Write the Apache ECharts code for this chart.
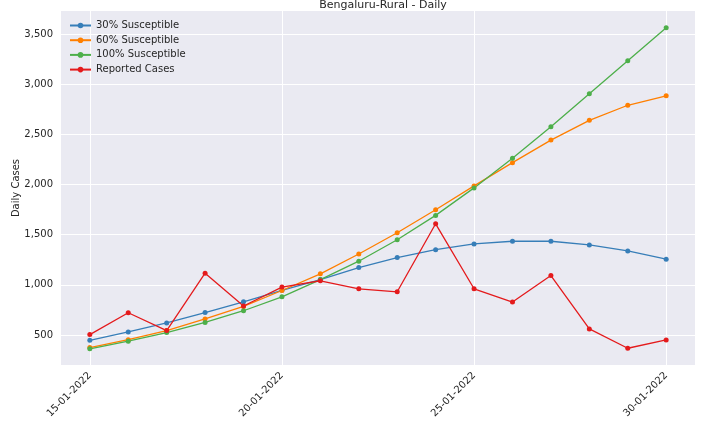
<!DOCTYPE html>
<html>
<head>
<meta charset="utf-8">
<script src="https://cdn.jsdelivr.net/npm/echarts@6/dist/echarts.min.js"></script>
<style>
  html, body { margin: 0; padding: 0; background: #fff; }
  #chart { width: 702px; height: 426px; }
</style>
</head>
<body>
<div id="chart"></div>
<script>
// dates (one point per day)
const dates = [
  '15-01-2022', '16-01-2022', '17-01-2022', '18-01-2022', '19-01-2022', '20-01-2022',
  '21-01-2022', '22-01-2022', '23-01-2022', '24-01-2022', '25-01-2022', '26-01-2022',
  '27-01-2022', '28-01-2022', '29-01-2022', '30-01-2022'
]
const xTickLabels = ['15-01-2022', '20-01-2022', '25-01-2022', '30-01-2022']
const yTicks = [500, 1000, 1500, 2000, 2500, 3000, 3500]

// series values
const susc30 = [446, 530, 620, 723, 830, 945, 1052, 1171, 1271, 1350, 1407, 1434, 1434, 1397, 1337, 1255]
const susc60 = [374, 453, 543, 659, 784, 943, 1109, 1307, 1519, 1748, 1986, 2218, 2443, 2640, 2790, 2884]
const susc100 = [361, 437, 523, 625, 741, 880, 1052, 1235, 1449, 1692, 1966, 2261, 2576, 2906, 3234, 3563]
const reported = [503, 721, 543, 1116, 788, 977, 1040, 960, 930, 1608, 960, 828, 1092, 560, 367, 450]

const textColor = '#262626'
const font = 'DejaVu Sans'

const toPoints = arr => arr.map((v, i) => [i, v])

const makeSeries = (name, data, color) => ({
  name,
  type: 'line',
  data: toPoints(data),
  symbol: 'circle',
  symbolSize: 5,
  lineStyle: { width: 1.3, color },
  itemStyle: { color },
  emphasis: { disabled: true }
})

const chart = echarts.init(document.getElementById('chart'))

chart.setOption({
  animation: false,
  backgroundColor: '#ffffff',
  title: {
    text: 'Bengaluru-Rural - Daily',
    left: 378,
    textAlign: 'center',
    top: -5,
    textStyle: { fontFamily: font, fontSize: 11, fontWeight: 'normal', color: textColor }
  },
  legend: {
    orient: 'vertical',
    left: 69,
    top: 20.5,
    padding: 0,
    itemWidth: 21,
    itemHeight: 7,
    itemGap: 4.7,
    textStyle: { fontFamily: font, fontSize: 10, color: textColor }
  },
  grid: {
    left: 61,
    right: 7,
    top: 11,
    bottom: 61,
    outerBoundsMode: 'none',
    show: true,
    backgroundColor: '#eaeaf2',
    borderWidth: 0
  },
  xAxis: {
    type: 'value',
    min: -0.75,
    max: 15.75,
    axisLine: { show: false },
    axisTick: { show: false, customValues: xTickLabels.map(d => dates.indexOf(d)) },
    axisLabel: {
      customValues: xTickLabels.map(d => dates.indexOf(d)),
      formatter: v => dates[Math.round(v)],
      rotate: 45,
      margin: 9,
      fontFamily: font,
      fontSize: 10,
      color: textColor
    },
    splitLine: { show: true, lineStyle: { color: '#ffffff', width: 1 } }
  },
  yAxis: {
    type: 'value',
    min: 200,
    max: 3730,
    name: 'Daily Cases',
    nameLocation: 'middle',
    nameGap: 40,
    nameMoveOverlap: false,
    nameTextStyle: { fontFamily: font, fontSize: 10, color: textColor },
    axisLine: { show: false },
    axisTick: { show: false, customValues: yTicks },
    axisLabel: {
      customValues: yTicks,
      formatter: v => v.toLocaleString('en-US'),
      margin: 8,
      fontFamily: font,
      fontSize: 10,
      color: textColor
    },
    splitLine: { show: true, lineStyle: { color: '#ffffff', width: 1 } }
  },
  series: [
    makeSeries('30% Susceptible', susc30, '#377eb8'),
    makeSeries('60% Susceptible', susc60, '#ff7f00'),
    makeSeries('100% Susceptible', susc100, '#4daf4a'),
    makeSeries('Reported Cases', reported, '#e41a1c')
  ]
})
</script>
</body>
</html>
